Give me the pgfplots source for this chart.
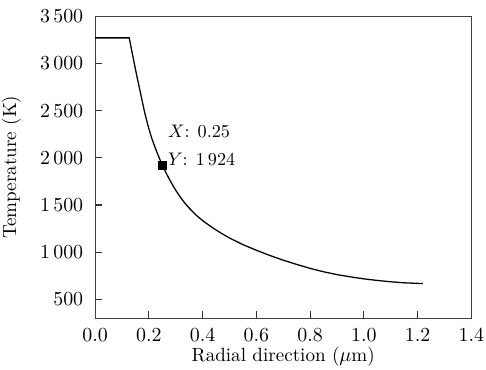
\documentclass[border=0pt]{standalone}
\usepackage{pgfplots}
\pgfplotsset{compat=1.18}
\begin{document}
\begin{tikzpicture}
\begin{axis}[
  name=main,
  scale only axis,
  width=207pt, height=166pt,
  xmin=0, xmax=1.4, ymin=300, ymax=3500,
  clip=false,
  xtick={0,0.2,...,1.4},
  ytick={500,1000,...,3500},
  xticklabel style={/pgf/number format/fixed, /pgf/number format/fixed zerofill, /pgf/number format/precision=1, yshift=-2pt, inner xsep=1pt},
  yticklabel style={/pgf/number format/1000 sep={\,}, xshift=-3pt},
  ticklabel style={font=\fontsize{10.5}{12}\selectfont},
  tick align=inside,
  xtick pos=bottom, ytick pos=left,
  major tick length=4pt,
  axis line style={black!75, line width=0.6pt},
  tick style={black!80, line width=0.6pt},
  label style={font=\fontsize{10.5}{12}\selectfont},
  xlabel={Radial direction ($\mu$m)},
  ylabel={Temperature (K)},
  xlabel style={yshift=2pt, inner ysep=1.8pt},
  ylabel style={yshift=6pt, inner ysep=1pt},
]
\addplot[black, line width=0.7pt] coordinates {
(0,3272) (0.127,3272) (0.137,3128) (0.146,3000) (0.155,2872) (0.165,2740) (0.174,2620)
(0.183,2500) (0.195,2360) (0.21,2215) (0.22,2135) (0.23,2060) (0.24,1990) (0.25,1924)
(0.2625,1849) (0.275,1780) (0.2875,1716) (0.30,1657) (0.3125,1603) (0.325,1553)
(0.3375,1508) (0.35,1468) (0.375,1395) (0.40,1335) (0.425,1283) (0.45,1235)
(0.475,1191) (0.50,1150) (0.55,1080) (0.60,1020) (0.65,965) (0.70,915) (0.75,870)
(0.80,828) (0.85,792) (0.90,762) (0.95,738) (1.0,717) (1.05,700) (1.10,686)
(1.15,675) (1.219,667)
};
\addplot[only marks, mark=square*, mark size=2.2pt, black] coordinates {(0.25,1924)};
\node[anchor=base west, inner sep=0pt, xshift=3pt] at (axis cs:0.25,1924) {$Y$: 1\,924};
\node[anchor=base west, inner sep=0pt, xshift=3pt, yshift=15pt] at (axis cs:0.25,1924) {$X$: 0.25};
\end{axis}
\path (main.north west) -- ++(0,9pt);
\end{tikzpicture}
\end{document}
